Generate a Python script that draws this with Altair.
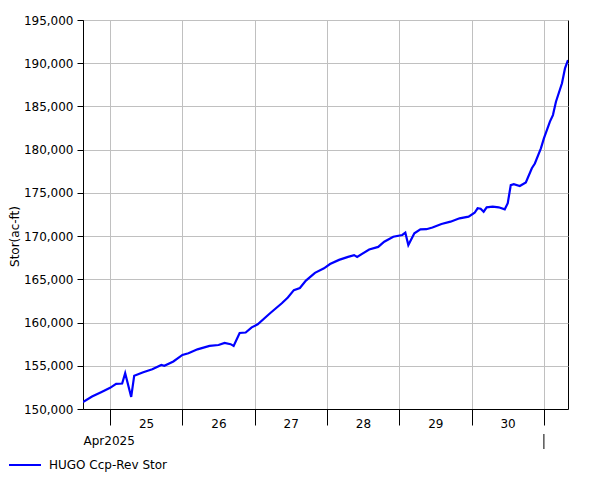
import altair as alt
import pandas as pd

# hours after 2025-04-24 15:00 and storage (ac-ft)
hours = [0, 3, 6, 9, 11, 13, 14, 16, 17, 20, 23, 26, 27, 30, 33, 35, 38, 42, 45, 47,
         49, 50, 52, 54, 56, 58, 62, 66, 68, 70, 72, 74, 77, 80, 82, 85, 88, 90, 91, 95,
         98, 100, 103, 106, 107, 108, 110, 112, 114, 116, 119, 122, 125, 128, 130, 131,
         132, 133, 134, 136, 138, 140, 141, 142, 143, 145, 147, 149, 150, 152, 153, 155,
         156, 157, 159, 160, 161]
stor = [150800, 151450, 151950, 152450, 152900, 152950, 154150, 151400, 153850, 154250,
        154600, 155100, 155000, 155500, 156250, 156450, 156900, 157300, 157400, 157650,
        157500, 157300, 158800, 158850, 159450, 159800, 161050, 162230, 162900, 163750,
        164000, 164850, 165750, 166270, 166770, 167250, 167600, 167800, 167600, 168450,
        168750, 169350, 169930, 170130, 170400, 168970, 170330, 170790, 170800, 171000,
        171400, 171670, 172060, 172250, 172700, 173220, 173170, 172820, 173330, 173400,
        173330, 173100, 173800, 175900, 176000, 175800, 176200, 177850, 178400, 180150,
        181300, 183250, 184000, 185550, 187680, 189400, 190370]
series_name = "HUGO Ccp-Rev Stor"
y_title = "Stor(ac-ft)"
month_label = "Apr2025"

times = pd.Timestamp("2025-04-24 15:00") + pd.to_timedelta(hours, unit="h")
df = pd.DataFrame({
    "time": [t.strftime("%Y-%m-%dT%H:%M:%S") for t in times],
    "stor": stor,
    "series": series_name,
})

FONT = "DejaVu Sans"
W, H = 485, 389

line = alt.Chart(df).mark_line(strokeWidth=2.2, clip=True).encode(
    x=alt.X(
        "time:T",
        scale=alt.Scale(
            domain=[alt.DateTime(year=2025, month=4, date=24, hours=15),
                    alt.DateTime(year=2025, month=5, date=1, hours=8)],
            nice=False,
        ),
        axis=alt.Axis(
            title=month_label,
            titleAnchor="start", titleAlign="left", titleBaseline="top",
            titleX=0, titleY=26, titleFontWeight="normal", titleFontSize=12,
            titleFont=FONT, titleColor="black",
            tickCount=alt.TimeIntervalStep(interval="day", step=1),
            labelExpr="date(datum.value) == 1 ? '' : timeFormat(datum.value, '%d')",
            labelOffset=36, labelAlign="center", labelBaseline="top",
            labelPadding=-7, labelFlush=False, labelOverlap=False, labelBound=False,
            labelFont=FONT, labelFontSize=12, labelColor="black",
            tickSize=16, tickColor="black", domainColor="black",
            grid=True, gridColor="#c0c0c0", gridWidth=1,
        ),
    ),
    y=alt.Y(
        "stor:Q",
        scale=alt.Scale(domain=[150000, 195000], nice=False, zero=False),
        axis=alt.Axis(
            title=y_title, titleFont=FONT, titleFontSize=12, titleFontWeight="normal",
            titleColor="black", titleX=-74, titleY=216, titleAlign="center",
            titleBaseline="top",
            values=list(range(150000, 195001, 5000)), format=",d",
            labelFont=FONT, labelFontSize=12, labelColor="black", labelPadding=4,
            tickSize=6, tickColor="black", domainColor="black",
            grid=True, gridColor="#c0c0c0", gridWidth=1,
        ),
    ),
    color=alt.Color(
        "series:N",
        scale=alt.Scale(range=["#0000ff"]),
        legend=alt.Legend(
            title=None, orient="none", legendX=-75, legendY=428,
            symbolType="stroke", symbolSize=1024, symbolStrokeWidth=2,
            labelFont=FONT, labelFontSize=12, labelColor="black",
            labelOffset=7, padding=0,
        ),
    ),
)

month_tick = alt.Chart(pd.DataFrame({"d": [0]})).mark_rule(color="black", strokeWidth=1).encode(
    x=alt.datum(alt.DateTime(year=2025, month=5, date=1)),
    y=alt.value(H + 25),
    y2=alt.value(H + 40),
)

chart = alt.layer(line, month_tick).properties(
    width=W, height=H,
    autosize=alt.AutoSizeParams(type="none"),
    padding={"left": 75, "top": 12, "right": 20, "bottom": 70},
    background="white",
).configure_view(stroke="black", strokeWidth=1)

chart.save("out.html", embed_options={"renderer": "svg", "actions": False})
